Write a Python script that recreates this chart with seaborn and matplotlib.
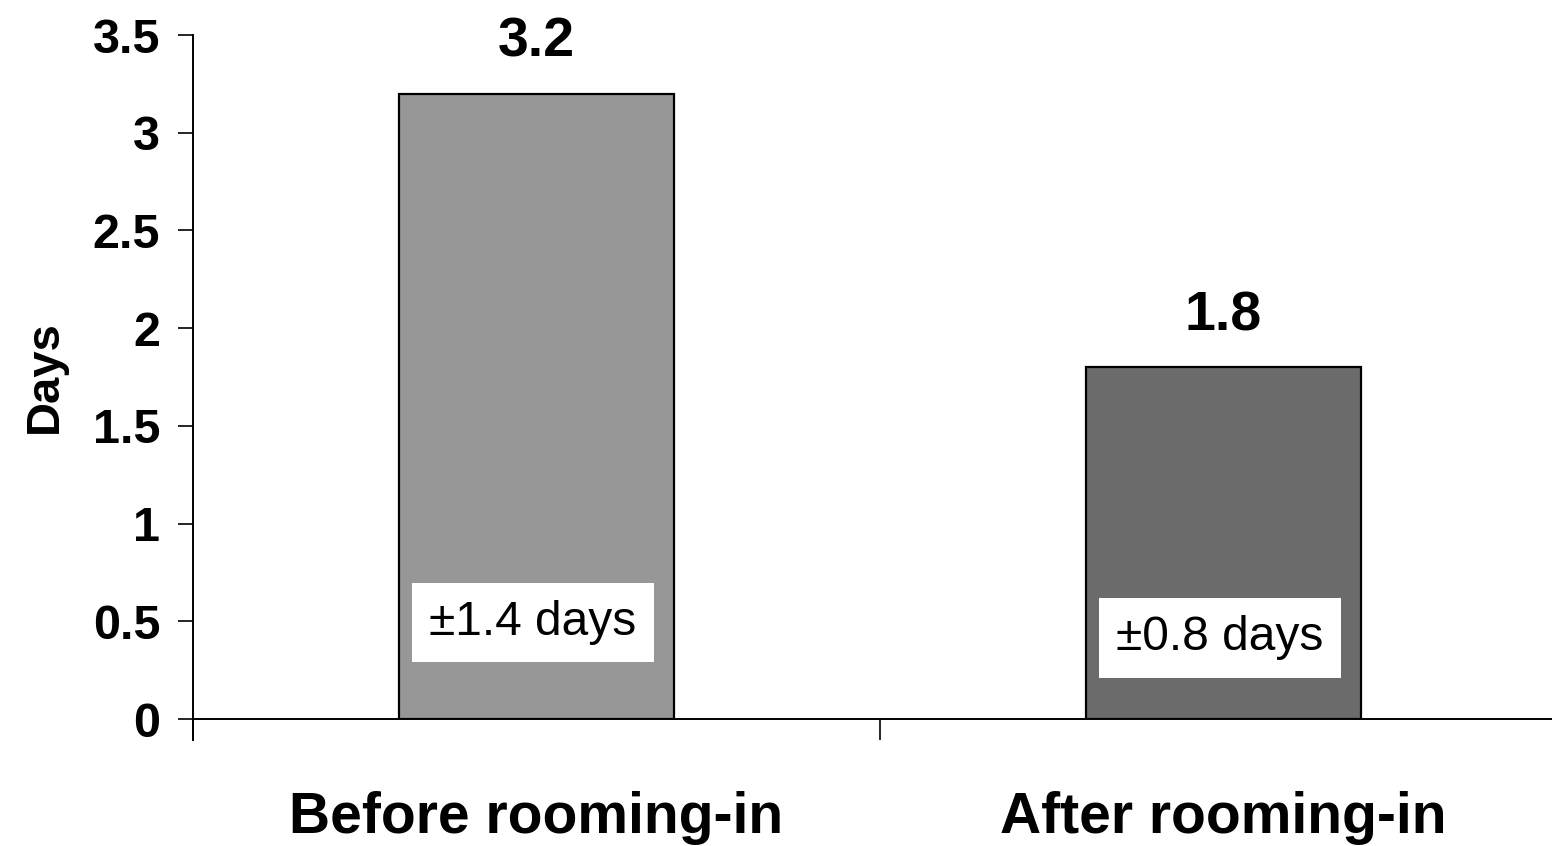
import matplotlib
matplotlib.use("Agg")
import matplotlib.pyplot as plt
import seaborn as sns
import pandas as pd

categories = ["Before rooming-in", "After rooming-in"]
values = [3.2, 1.8]
value_labels = ["3.2", "1.8"]
sd_labels = ["\u00b11.4 days", "\u00b10.8 days"]
sd_label_y = [0.495, 0.415]
bar_colors = ["#979797", "#6b6b6b"]
y_ticks = [0, 0.5, 1, 1.5, 2, 2.5, 3, 3.5]
y_tick_labels = ["0", "0.5", "1", "1.5", "2", "2.5", "3", "3.5"]

sns.set_theme(style="white")
plt.rcParams["font.family"] = ["Liberation Sans", "DejaVu Sans"]
plt.rcParams["text.color"] = "black"
plt.rcParams["axes.labelcolor"] = "black"
plt.rcParams["xtick.color"] = "black"
plt.rcParams["ytick.color"] = "black"

df = pd.DataFrame({"cat": categories, "val": values})

fig = plt.figure(figsize=(15.52, 8.46), dpi=100)
ax = fig.add_axes([193 / 1552, (846 - 719) / 846, (1567 - 193) / 1552, (719 - 35) / 846])

sns.barplot(data=df, x="cat", y="val", hue="cat", palette=bar_colors, width=0.4,
            edgecolor="black", linewidth=1.6, legend=False, ax=ax, saturation=1)

ax.set_xlim(-0.5, 1.5)
ax.set_ylim(0, 3.5)

for i, (v, lab) in enumerate(zip(values, value_labels)):
    ax.text(i, v + 0.26, lab, ha="center", va="center", fontsize=40,
            fontweight="bold", color="black")

for i, (lab, yy) in enumerate(zip(sd_labels, sd_label_y)):
    ax.text(i - 0.005, yy, lab, ha="center", va="center", fontsize=34.5,
            color="black",
            bbox=dict(boxstyle="square,pad=0.36", facecolor="white", edgecolor="none"))

ax.set_yticks(y_ticks)
ax.set_yticklabels(y_tick_labels)
ax.tick_params(axis="y", direction="out", length=11, width=1.2, colors="black",
               pad=12.5, left=True, labelsize=35)
for t in ax.get_yticklabels():
    t.set_fontweight("bold")

ax.set_xticks([-0.5, 0.5, 1.5])
ax.set_xticklabels(["", "", ""])
ax.tick_params(axis="x", which="major", direction="out", length=15, width=1.2,
               colors="black", bottom=True)
ax.set_xticks([0, 1], minor=True)
ax.set_xticklabels(categories, minor=True)
ax.tick_params(axis="x", which="minor", length=0, pad=52, labelsize=41, colors="black")
for t in ax.get_xticklabels(minor=True):
    t.set_fontweight("bold")

ax.set_xlabel("")
ax.set_ylabel("Days", fontsize=34, fontweight="bold", labelpad=19, color="black")

for s in ["top", "right"]:
    ax.spines[s].set_visible(False)
for s in ["left", "bottom"]:
    ax.spines[s].set_color("black")
    ax.spines[s].set_linewidth(1.4)
ax.spines["left"].set_bounds(-0.107, 3.5)

fig.savefig("out.png", dpi=100, facecolor="white")
